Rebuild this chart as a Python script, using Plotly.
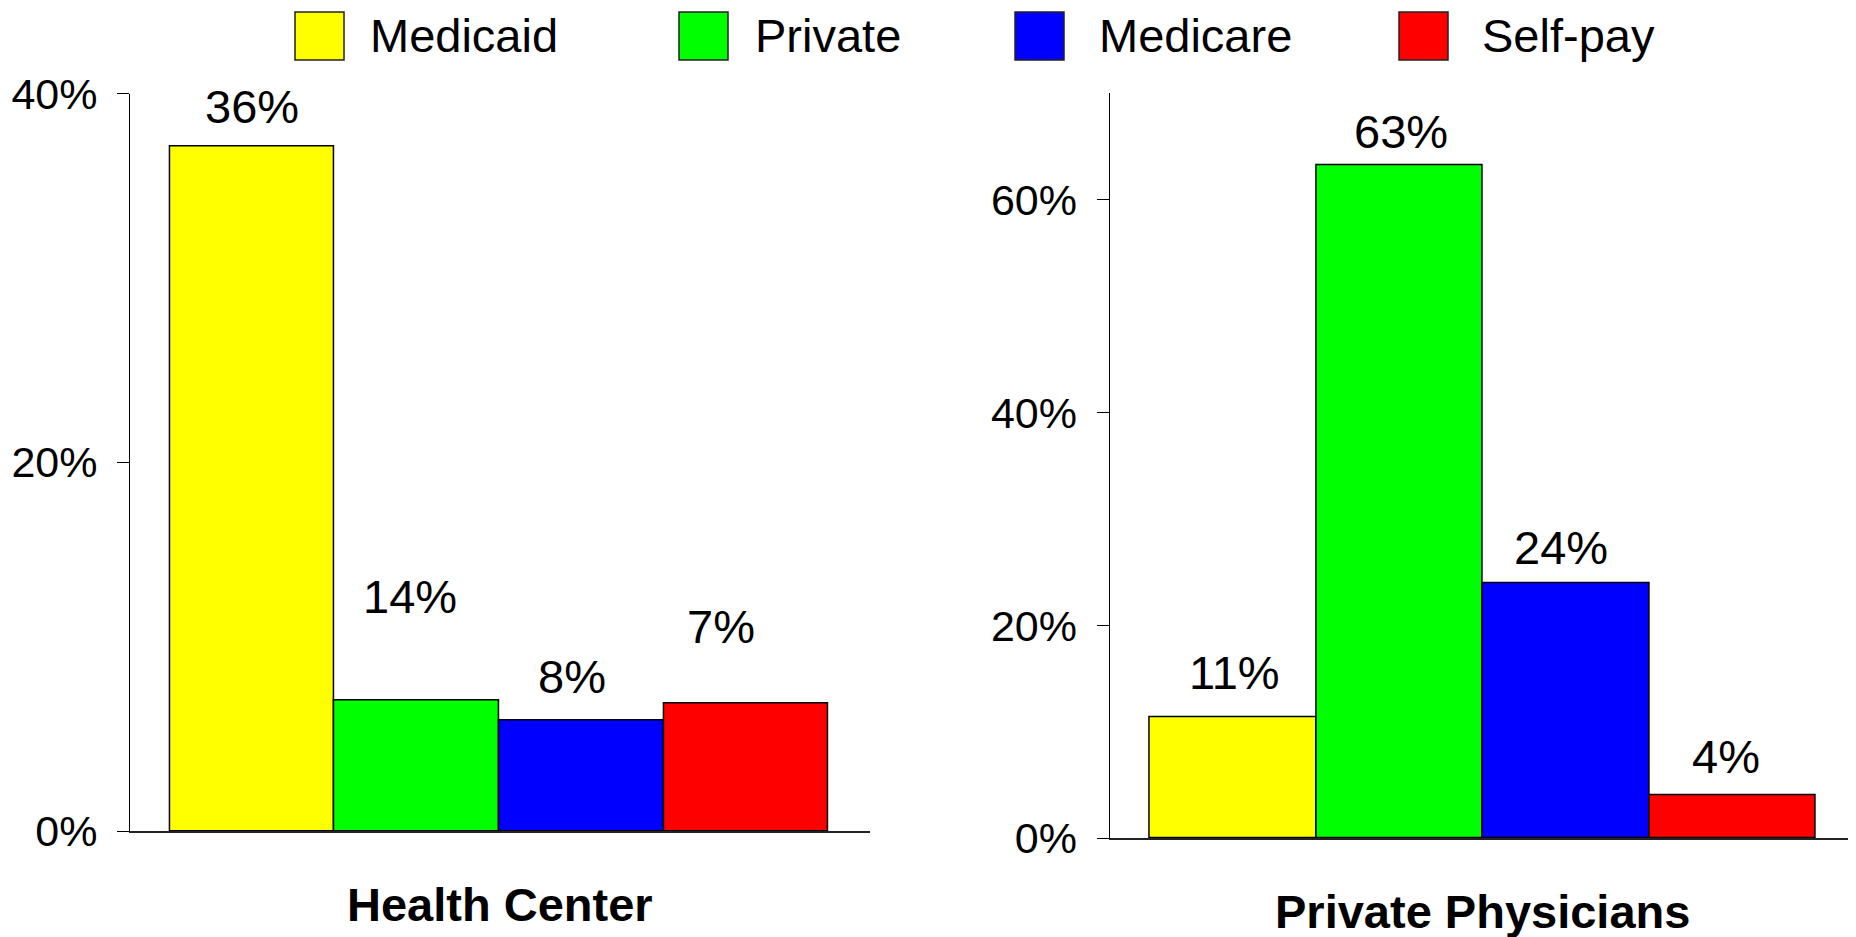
import plotly.graph_objects as go

# Payer groups, same order in both panels
payers = ["Medicaid", "Private", "Medicare", "Self-pay"]
payer_colors = ["#ffff00", "#00ff00", "#0000ff", "#ff0000"]

# Bar heights as drawn (percent)
health_center_bars = [37.1, 7.1, 6.0, 6.9]
physician_bars = [11.4, 63.2, 24.0, 4.0]

# Labels as printed on the chart
health_center_labels = ["36%", "14%", "8%", "7%"]
physician_labels = ["11%", "63%", "24%", "4%"]

panel_titles = ["Health Center", "Private Physicians"]

hc_ticks = [0, 20, 40]
pp_ticks = [0, 20, 40, 60]

FONT = "Liberation Sans, Arial, sans-serif"
W, H = 1856, 937
OFF = 8  # the page body adds an 8px margin around the plot div
FW, FH = W - OFF, H - OFF


def fx(p):
    # page pixel -> paper fraction (x)
    return (p - OFF) / FW


def fy(p):
    # page pixel -> paper fraction (y)
    return 1 - (p - OFF) / FH


# where the printed labels sit (axis units) and small nudges in px
hc_label_y = [39.3, 12.7, 8.4, 11.1]
hc_label_dx = [0, -7, -9, -25]
pp_label_y = [15.6, 66.4, 27.3, 7.7]
pp_label_dx = [1, 1, -5, -7]

fig = go.Figure()

fig.add_trace(go.Bar(
    x=payers, y=health_center_bars, xaxis="x", yaxis="y",
    marker=dict(color=payer_colors, line=dict(color="black", width=1.5)),
    showlegend=False,
))
fig.add_trace(go.Bar(
    x=payers, y=physician_bars, xaxis="x2", yaxis="y2",
    marker=dict(color=payer_colors, line=dict(color="black", width=1.5)),
    showlegend=False,
))

annotations = []
for xa, ya, labels, ys, dxs in [("x", "y", health_center_labels, hc_label_y, hc_label_dx),
                               ("x2", "y2", physician_labels, pp_label_y, pp_label_dx)]:
    for p, lab, yy, dx in zip(payers, labels, ys, dxs):
        annotations.append(dict(
            x=p, y=yy, xref=xa, yref=ya, text=lab, showarrow=False,
            xshift=dx, yanchor="middle", font=dict(size=47, color="black", family=FONT),
        ))

# panel titles under the axes
for xa, ya, title, shift in [("x", "y", panel_titles[0], -73), ("x2", "y2", panel_titles[1], -73)]:
    annotations.append(dict(
        x=0.5, y=0, xref=xa + " domain", yref=ya + " domain", text="<b>" + title + "</b>",
        showarrow=False, yanchor="middle", yshift=shift,
        font=dict(size=47, color="black", family=FONT),
    ))

# hand-drawn legend across the top
shapes = []
box_left = [295, 679, 1015, 1399]
text_left = [368, 753, 1097, 1480]
for name, col, bx, tx in zip(payers, payer_colors, box_left, text_left):
    shapes.append(dict(
        type="rect", xref="paper", yref="paper",
        x0=fx(bx), x1=fx(bx + 49), y0=fy(60), y1=fy(12),
        fillcolor=col, line=dict(color="#222", width=1.5),
    ))
    annotations.append(dict(
        x=fx(tx), y=fy(35), xref="paper", yref="paper", text=name, showarrow=False,
        xanchor="left", yanchor="middle", font=dict(size=47, color="black", family=FONT),
    ))

# y axis lines run a bit below the baseline, plus end tick on left x axis
for xa, ya, xpos in [("x", "y", 0), ("x", "y", 1), ("x2", "y2", 0)]:
    shapes.append(dict(
        type="line", xref=xa + " domain", yref=ya, x0=xpos, x1=xpos,
        ysizemode="pixel", yanchor=0, y0=0, y1=-16,
        line=dict(color="black", width=1.2),
    ))

axis_common = dict(
    showgrid=False, zeroline=False, showline=True, linecolor="black", automargin=False,
    ticks="outside", ticklen=12, tickcolor="black", tickwidth=1.2, tickmode="array",
    tickfont=dict(size=43, color="black", family=FONT),
    ticklabelstandoff=11,
)
xaxis_common = dict(
    showticklabels=False, showgrid=False, zeroline=False, automargin=False,
    showline=True, linecolor="#222", linewidth=2, ticks="",
)

fig.update_layout(
    template="none",
    width=FW, height=FH,
    margin=dict(l=0, r=0, t=0, b=0, pad=0, autoexpand=False),
    paper_bgcolor="white", plot_bgcolor="white",
    bargap=0,
    showlegend=False,
    font=dict(family=FONT, color="black"),
    xaxis=dict(domain=[fx(130.2), fx(870)], anchor="y", range=[-0.742, 3.753], **xaxis_common),
    yaxis=dict(domain=[fy(831), fy(93.5)], anchor="x", range=[0, 40],
               tickvals=hc_ticks, ticktext=[f"{t}%" for t in hc_ticks],
               linewidth=1.2, **axis_common),
    xaxis2=dict(domain=[fx(1109.7), 1.0], anchor="y2", range=[-0.742, 3.74], **xaxis_common),
    yaxis2=dict(domain=[fy(838.3), fy(93.3)], anchor="x2", range=[0, 70],
                tickvals=pp_ticks, ticktext=[f"{t}%" for t in pp_ticks],
                linewidth=1.2, **axis_common),
    annotations=annotations,
    shapes=shapes,
)

fig.write_html("out.html")
